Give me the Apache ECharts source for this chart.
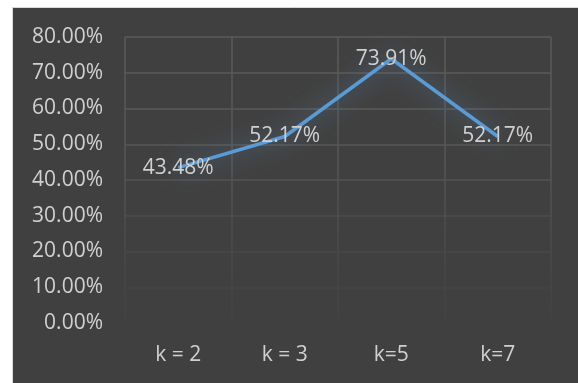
<!DOCTYPE html>
<html>
<head>
<meta charset="utf-8">
<script src="https://cdn.jsdelivr.net/npm/echarts@6/dist/echarts.min.js"></script>
<style>
html,body{margin:0;padding:0;background:#ffffff;}
#chart{width:578px;height:383px;}
</style>
</head>
<body>
<div id="chart"></div>
<script>
const categories = ['k = 2', 'k = 3', 'k=5', 'k=7'];
const accuracy = [43.48, 52.17, 73.91, 52.17];
const yMin = 0, yMax = 80, yStep = 10;

const chart = echarts.init(document.getElementById('chart'), null, {renderer: 'canvas'});
const fontFamily = '"Open Sans", "Liberation Sans", sans-serif';
const vGrad = {
  type: 'linear', x: 0, y: 37, x2: 0, y2: 323, global: true,
  colorStops: [
    {offset: 0, color: '#5a5a5a'},
    {offset: 0.45, color: '#565656'},
    {offset: 0.75, color: '#494949'},
    {offset: 1, color: '#424242'}
  ]
};
chart.setOption({
  backgroundColor: '#ffffff',
  animation: false,
  graphic: [{
    type: 'rect', z: -10, silent: true,
    shape: {x: 12.5, y: 7.5, width: 570, height: 380},
    style: {fill: '#404040', stroke: '#d9d9d9', lineWidth: 1}
  }],
  grid: {left: 125, right: 27, top: 37, bottom: 60, containLabel: false},
  xAxis: {
    type: 'category',
    data: categories,
    boundaryGap: true,
    axisLine: {show: false},
    axisTick: {show: false},
    axisLabel: {color: '#d0d0d0', fontSize: 21, fontFamily: fontFamily, margin: 22},
    splitLine: {show: true, lineStyle: {color: vGrad, width: 1.5}}
  },
  yAxis: {
    type: 'value',
    min: yMin, max: yMax, interval: yStep,
    axisLine: {show: false},
    axisTick: {show: false},
    axisLabel: {
      color: '#d0d0d0', fontSize: 21, fontFamily: fontFamily, margin: 22,
      formatter: v => v.toFixed(2) + '%'
    },
    splitLine: {show: true, lineStyle: {width: 1.5,
      color: ['#424242', '#454545', '#484848', '#4d4d4d', '#535353', '#575757', '#5a5a5a', '#5a5a5a', '#5b5b5b']}}
  },
  series: [{
    type: 'line',
    data: accuracy,
    symbol: 'circle',
    symbolSize: 0.1,
    itemStyle: {color: '#5b9bd5'},
    lineStyle: {
      color: '#5b9bd5', width: 3.5,
      shadowColor: 'rgba(91,155,213,0.7)', shadowBlur: 22
    },
    label: {
      show: true, position: 'inside',
      color: '#d0d0d0', fontSize: 21, fontFamily: fontFamily,
      formatter: p => p.value.toFixed(2) + '%'
    }
  }]
});
</script>
</body>
</html>
